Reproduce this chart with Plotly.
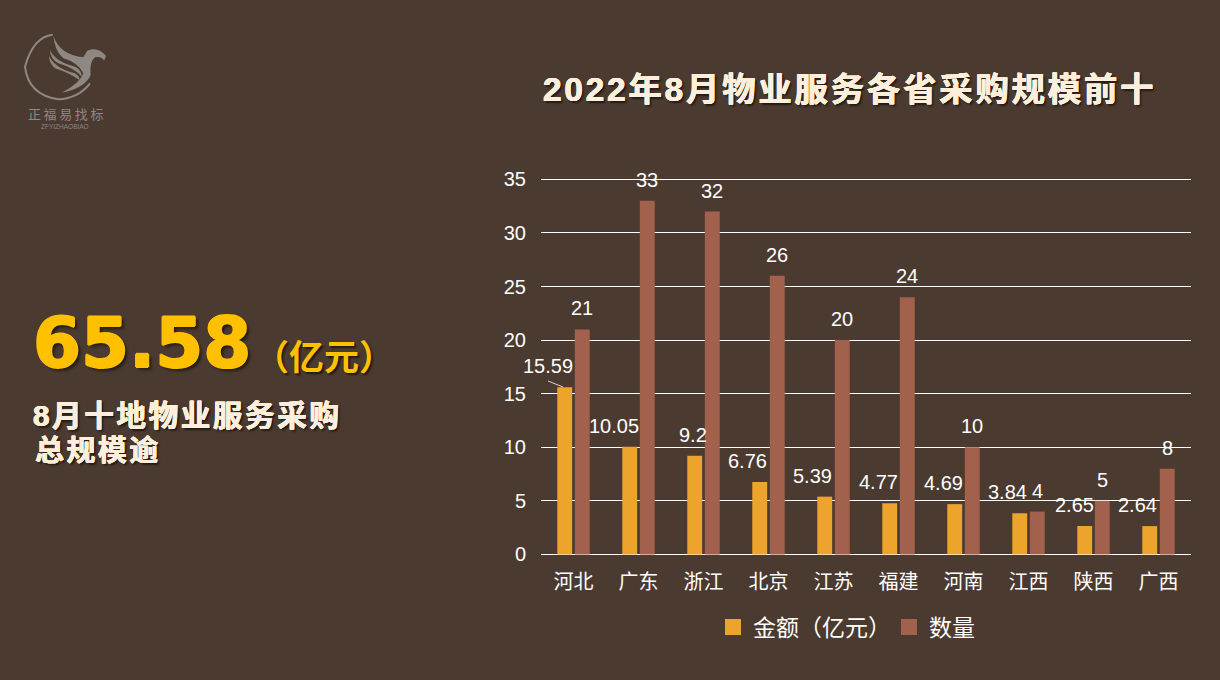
import plotly.graph_objects as go

provinces = ["河北", "广东", "浙江", "北京", "江苏", "福建", "河南", "江西", "陕西", "广西"]
amounts = [15.59, 10.05, 9.2, 6.76, 5.39, 4.77, 4.69, 3.84, 2.65, 2.64]
counts = [21, 33, 32, 26, 20, 24, 10, 4, 5, 8]
y_ticks = [0, 5, 10, 15, 20, 25, 30, 35]
series_names = ["金额（亿元）", "数量"]
title_text = "2022年8月物业服务各省采购规模前十"
big_number = "65.58"
big_unit = "（亿元）"
caption_lines = ["8月十地物业服务采购", "总规模逾"]
logo_cn = "正福易找标"
logo_en = "ZFYIZHAOBIAO"

W, H = 1220, 680
L, R, T, B = 541, 1191, 176, 556
ZERO_PX = 554.4  # screen row of value 0; 375 px hold 35 units
Y_MIN = -(B - ZERO_PX) * 35 / 375
Y_MAX = (ZERO_PX - T) * 35 / 375
BG = "#4B3A30"
ORANGE = "#EDA42D"
BROWN = "#A2614C"
GOLD = "#FFC000"
CREAM = "#FDEFDC"
LOGO = "#8F8782"
FONT = "Liberation Sans, Noto Sans CJK SC, sans-serif"
DROP = "2px 2px 2px rgba(0,0,0,0.55)"


def stroke(color, w):
    return f"{w}px 0 0 {color}, -{w}px 0 0 {color}, 0 {w}px 0 {color}, 0 -{w}px 0 {color}, "


def px(x, y):
    return (x - L) / (R - L), (B - y) / (B - T)


def zpath(cmds):
    """Decorative logo path written in screen pixels, converted to paper units."""
    out = []
    for c in cmds:
        a, b = px(c[0] / 3, c[1] / 3 + 20)
        out.append(f"{a:.5f},{b:.5f}")
    return " ".join(out)


fig = go.Figure()
fig.add_bar(name=series_names[0], x=provinces, y=amounts, marker_color=ORANGE, marker_line_width=0, showlegend=False)
fig.add_bar(name=series_names[1], x=provinces, y=counts, marker_color=BROWN, marker_line_width=0, showlegend=False)
# legend keys: square markers give the larger swatch of the reference
for nm, col in zip(series_names, (ORANGE, BROWN)):
    fig.add_scatter(x=[None], y=[None], mode="markers", name=nm,
                    marker=dict(symbol="square", size=16, color=col))

ann = []
amt_dx = [-16, -15, -1, -12, -12, -11, -11, -12, -10, -12]
for i, p in enumerate(provinces):
    ann.append(dict(x=p, y=amounts[i], xref="x", yref="y", text=str(amounts[i]), showarrow=False,
                    xshift=-9.5 + amt_dx[i], yshift=21, yanchor="middle",
                    font=dict(size=20, color="white", family=FONT)))
    ann.append(dict(x=p, y=counts[i], xref="x", yref="y", text=str(counts[i]), showarrow=False,
                    xshift=8.5, yshift=21, yanchor="middle",
                    font=dict(size=20, color="white", family=FONT)))


def text_px(x, y, text, size, color, family=FONT, anchor="left", shadow=None):
    a, b = px(x, y)
    f = dict(size=size, color=color, family=family)
    if shadow:
        f["shadow"] = shadow
    ann.append(dict(x=a, y=b, xref="paper", yref="paper", text=text, showarrow=False,
                    xanchor=anchor, yanchor="middle", font=f, borderpad=0, borderwidth=0))


text_px(848, 89, "<b>" + "\u200a".join(title_text) + "</b>", 33.4, CREAM, FONT, "center", stroke(CREAM, 0.4) + DROP)
text_px(33, 343, "<b>" + big_number + "</b>", 69, GOLD, "DejaVu Sans", "left", stroke(GOLD, 1) + "3px 3px 3px rgba(0,0,0,0.5)")
text_px(324, 357, "<b>" + big_unit + "</b>", 35, GOLD, FONT, "center", DROP)
text_px(33, 415, "<b>" + "\u200a".join(caption_lines[0]) + "</b>", 29.7, CREAM, FONT, "left", stroke(CREAM, 0.4) + DROP)
text_px(35, 451, "<b>" + "\u200a".join(caption_lines[1]) + "</b>", 29, CREAM, FONT, "left", stroke(CREAM, 0.4) + DROP)
text_px(65, 113, "\u2009".join(logo_cn), 13, LOGO, "Noto Sans CJK SC", "center")
text_px(65, 127, logo_en, 6.5, LOGO, "Liberation Sans", "center")

shapes = []
# leader line of the first amount label
(x0, y0), (x1, y1) = px(548, 381), px(563, 387)
shapes.append(dict(type="line", xref="paper", yref="paper", x0=x0, y0=y0, x1=x1, y1=y1,
                   line=dict(color="#D9D4CF", width=1)))
# logo: ring arc and bird, drawn as decoration
ring = "M " + zpath([(158, 44)]) + " Q " + zpath([(100, 50), (75, 140)]) + " Q " + zpath([(85, 225), (175, 238)]) + \
       " Q " + zpath([(235, 235), (270, 190)])
shapes.append(dict(type="path", xref="paper", yref="paper", path=ring, line=dict(color=LOGO, width=2)))
wing = ("M " + zpath([(160, 48)]) + " Q " + zpath([(180, 105), (250, 112)]) + " L " + zpath([(262, 92)]) +
        " Q " + zpath([(295, 78), (318, 108)]) + " L " + zpath([(312, 122)]) + " Q " + zpath([(305, 108), (285, 112)]) +
        " Q " + zpath([(268, 125), (272, 165)]) + " Q " + zpath([(255, 205), (185, 218)]) +
        " Q " + zpath([(240, 190), (250, 160)]) + " Q " + zpath([(235, 128), (190, 115)]) +
        " Q " + zpath([(165, 95), (160, 48)]) + " Z")
shapes.append(dict(type="path", xref="paper", yref="paper", path=wing, fillcolor=LOGO, line=dict(width=0)))
feather1 = ("M " + zpath([(150, 90)]) + " Q " + zpath([(165, 125), (225, 140)]) + " Q " + zpath([(245, 150), (245, 170)]) +
            " Q " + zpath([(225, 145), (175, 130)]) + " Q " + zpath([(150, 115), (150, 90)]) + " Z")
feather2 = ("M " + zpath([(147, 108)]) + " Q " + zpath([(165, 145), (225, 160)]) + " Q " + zpath([(240, 170), (238, 180)]) +
            " Q " + zpath([(210, 160), (165, 145)]) + " Q " + zpath([(148, 130), (147, 108)]) + " Z")
for f in (feather1, feather2):
    shapes.append(dict(type="path", xref="paper", yref="paper", path=f, fillcolor=LOGO, line=dict(width=0)))

fig.update_layout(
    width=W, height=H, autosize=False,
    margin=dict(l=L, r=W - R, t=T, b=H - B, pad=0),
    paper_bgcolor=BG, plot_bgcolor=BG,
    barmode="group", bargap=0.46, bargroupgap=0.15,
    font=dict(family=FONT, color="white", size=20),
    showlegend=True,
    legend=dict(orientation="h", x=(713 - L) / (R - L), xanchor="left", y=(B - 627) / (B - T), yanchor="middle",
                font=dict(size=23, color="white", family=FONT), bgcolor="rgba(0,0,0,0)", itemwidth=30,
                entrywidth=131, entrywidthmode="pixels"),
    xaxis=dict(type="category", categoryorder="array", categoryarray=provinces, range=[-0.5, 9.5], showgrid=False,
               showline=False, ticks="", ticklabelstandoff=12, tickfont=dict(size=20, color="white")),
    yaxis=dict(range=[Y_MIN, Y_MAX], tickvals=y_ticks, showgrid=True, gridcolor="white", gridwidth=1, zeroline=True,
               zerolinecolor="white", zerolinewidth=1, showline=False, ticks="", ticklabelstandoff=14,
               tickfont=dict(size=20, color="white")),
    annotations=ann, shapes=shapes,
)
fig.write_html("out.html", config=dict(displayModeBar=False),
               post_script="document.body.style.margin='0';document.body.style.background='%s';" % BG)
